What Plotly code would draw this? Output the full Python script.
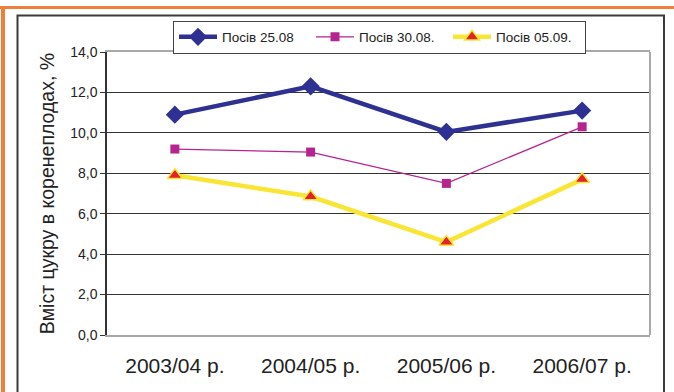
import plotly.graph_objects as go

categories = ["2003/04 р.", "2004/05 р.", "2005/06 р.", "2006/07 р."]
series_names = ["Посів 25.08", "Посів 30.08.", "Посів 05.09."]
sow_2508 = [10.9, 12.3, 10.05, 11.1]
sow_3008 = [9.2, 9.05, 7.5, 10.3]
sow_0509 = [7.9, 6.85, 4.6, 7.7]
y_ticks = [0, 2, 4, 6, 8, 10, 12, 14]

W, H = 674, 392
L, R, T, B = 107, 24, 52, 57
PW, PH = W - L - R, H - T - B


def px(x):
    return (x - L) / PW


def py(y):
    return (H - B - y) / PH


fig = go.Figure()
fig.add_trace(go.Scatter(
    x=categories, y=sow_2508, name=series_names[0], mode="lines+markers",
    line=dict(color="#2E3192", width=4.5),
    marker=dict(symbol="diamond", size=14, color="#2E3192"),
))
fig.add_trace(go.Scatter(
    x=categories, y=sow_3008, name=series_names[1], mode="lines+markers",
    line=dict(color="#B5258F", width=1.3),
    marker=dict(symbol="square", size=9, color="#B5258F"),
))
fig.add_trace(go.Scatter(
    x=categories, y=sow_0509, name=series_names[2], mode="lines+markers",
    line=dict(color="#F9E534", width=4.5),
    marker=dict(symbol="triangle-up", size=13, color="#E5202B",
                line=dict(color="#F9E534", width=1.5)),
))

shapes = [
    # orange outer frame
    dict(type="line", xref="paper", yref="paper", x0=px(0), x1=px(W), y0=py(7.5), y1=py(7.5),
         line=dict(color="#F07F3C", width=3)),
    dict(type="line", xref="paper", yref="paper", x0=px(3), x1=px(3), y0=py(6), y1=py(H + 5),
         line=dict(color="#F07F3C", width=4)),
    # inner dark frame
    dict(type="rect", xref="paper", yref="paper", x0=px(17.5), x1=px(664), y0=py(15.5), y1=py(H + 10),
         line=dict(color="#3A3A3A", width=2)),
    # grey right plot border
    dict(type="line", xref="paper", yref="paper", x0=1, x1=1, y0=0, y1=1,
         line=dict(color="#A8A8A8", width=2)),
]

fig.update_layout(
    width=W, height=H,
    margin=dict(l=L, r=R, t=T, b=B, pad=0),
    paper_bgcolor="white", plot_bgcolor="white",
    separators=", ",
    font=dict(family="Liberation Sans, Arial, sans-serif", color="#222"),
    showlegend=True,
    legend=dict(
        orientation="h", x=px(173), y=py(20.5), xanchor="left", yanchor="top",
        bordercolor="#444", borderwidth=1, bgcolor="white",
        font=dict(size=13.5, color="#222"),
        entrywidth=84, entrywidthmode="pixels",
        itemwidth=38,
    ),
    xaxis=dict(
        type="category", range=[-0.5, 3.5],
        showline=True, linecolor="#A8A8A8", linewidth=2, mirror=True,
        showgrid=False, ticks="outside", ticklen=11, tickcolor="rgba(0,0,0,0)",
        tickfont=dict(size=21, color="#222"),
    ),
    yaxis=dict(
        range=[0, 14], tickvals=y_ticks, tickformat=".1f",
        showline=True, linecolor="#333", linewidth=1.5,
        showgrid=True, gridcolor="#333", gridwidth=1, zeroline=False,
        ticks="outside", ticklen=5, tickcolor="#333",
        tickfont=dict(size=14, color="#222"),
        title=dict(text="Вміст цукру в коренеплодах, %", font=dict(size=19.5, color="#222"), standoff=10),
    ),
    shapes=shapes,
)

fig.write_html(
    "out.html",
    config={"displayModeBar": False},
    post_script="document.body.style.margin='0';document.body.style.overflow='hidden';",
)
